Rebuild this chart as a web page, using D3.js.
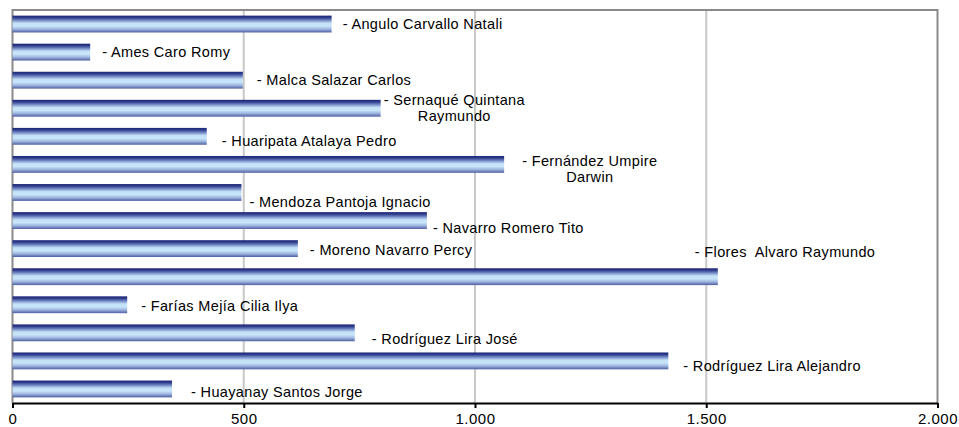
<!DOCTYPE html>
<html>
<head>
<meta charset="utf-8">
<title>Bar chart</title>
<style>
body { margin: 0; background: #fff; }
svg text { font-family: "Liberation Sans", Arial, sans-serif; }
</style>
</head>
<body>
<svg width="959" height="427"></svg>
<script src="https://cdnjs.cloudflare.com/ajax/libs/d3/7.8.5/d3.min.js"></script>
<script>
// data (top bar first)
var names = [
    "Angulo Carvallo Natali",
    "Ames Caro Romy",
    "Malca Salazar Carlos",
    "Sernaqué Quintana Raymundo",
    "Huaripata Atalaya Pedro",
    "Fernández Umpire Darwin",
    "Mendoza Pantoja Ignacio",
    "Navarro Romero Tito",
    "Moreno Navarro Percy",
    "Flores  Alvaro Raymundo",
    "Farías Mejía Cilia Ilya",
    "Rodríguez Lira José",
    "Rodríguez Lira Alejandro",
    "Huayanay Santos Jorge"
];
var values = [690, 168, 498, 796, 420, 1063, 495, 896, 617, 1525, 248, 740, 1418, 345];
var xTicks = [0, 500, 1000, 1500, 2000];

// label placement as dragged in the original: [dx from bar end, dy from bar centre, words on first line]
var labelLayout = [
    [11, 0, 0], [12, 0, 0], [14, 0, 0], [3, 0, 2], [15, 5, 0], [18, 5, 2], [8, 9, 0],
    [6, 7, 0], [12, 1, 0], [-23, -25, 0], [14, 1, 0], [17, 6, 0], [15, 5, 0], [19, 3, 0]
];

var svg = d3.select("svg");
var plotLeft = 12.5, plotRight = 937.5, plotTop = 10, plotBottom = 403;
var labelFont = "14.5px";

var x = d3.scaleLinear().domain([0, 2000]).range([plotLeft, plotRight]);
var y = d3.scaleBand().domain(names).range([plotTop, plotBottom]).paddingInner(0.4).paddingOuter(0.2);

var loc = d3.formatLocale({decimal: ",", thousands: ".", grouping: [3], currency: ["", ""]});
var fmt = loc.format(",");

// bar gradient (horizontal stripes)
var grad = svg.append("defs").append("linearGradient")
    .attr("id", "barGrad").attr("x1", 0).attr("y1", 0).attr("x2", 0).attr("y2", 1);
[[0, "#1e2678"], [0.12, "#2f3c8c"], [0.3, "#7d95cc"], [0.45, "#c4e0f7"], [0.62, "#c8e6fa"],
 [0.8, "#9fb6e0"], [1, "#4d5ea2"]].forEach(function(s) {
    grad.append("stop").attr("offset", s[0]).attr("stop-color", s[1]);
});

// gridlines
svg.selectAll(".grid")
    .data(xTicks.slice(1, -1))
    .enter().append("line")
    .attr("x1", d => x(d)).attr("x2", d => x(d))
    .attr("y1", plotTop).attr("y2", plotBottom)
    .style("stroke", "#c8c8c8").style("stroke-width", 2);

// plot border (top, right, left)
svg.append("path")
    .attr("d", "M" + plotLeft + "," + plotBottom + "V" + plotTop + "H" + plotRight + "V" + plotBottom)
    .style("fill", "none").style("stroke", "#8a8a8a").style("stroke-width", 2);

// bars
svg.selectAll(".bar")
    .data(values)
    .enter().append("rect")
    .attr("x", x(0))
    .attr("y", (d, i) => y(names[i]))
    .attr("width", d => x(d) - x(0))
    .attr("height", y.bandwidth())
    .style("fill", "url(#barGrad)");

// axis
var axis = svg.append("g")
    .attr("transform", "translate(0," + plotBottom + ")")
    .call(d3.axisBottom(x).tickValues(xTicks).tickFormat(fmt).tickSize(5).tickSizeOuter(0));
axis.select(".domain").style("stroke", "#000").style("stroke-width", 2);
axis.selectAll(".tick line").style("stroke", "#000").style("stroke-width", 2);
axis.selectAll(".tick text").attr("y", 10).style("font-size", "15px").style("fill", "#000")
    .style("letter-spacing", "0.5px")
    .style("font-family", "'Liberation Sans', Arial, sans-serif");

// data labels
names.forEach(function(name, i) {
    var lay = labelLayout[i];
    var words = name.split(" ");
    var lines = lay[2] ? [words.slice(0, lay[2]).join(" "), words.slice(lay[2]).join(" ")] : [name];
    var cx = x(values[i]) + lay[0];
    var cy = y(name) + y.bandwidth() / 2 + lay[1];
    var t = svg.append("text")
        .attr("x", cx)
        .attr("y", cy - (lines.length - 1) * 8)
        .attr("dy", "0.35em")
        .style("font-size", labelFont)
        .style("letter-spacing", "0.35px")
        .style("fill", "#000")
        .style("white-space", "pre");
    if (lines.length === 1) {
        t.text("- " + name);
    } else {
        t.text("- " + lines[0]);
        var w = t.node().getComputedTextLength();
        svg.append("text")
            .attr("x", cx + w / 2)
            .attr("y", cy + 8)
            .attr("dy", "0.35em")
            .attr("text-anchor", "middle")
            .style("font-size", labelFont)
            .style("letter-spacing", "0.35px")
            .style("fill", "#000")
            .text(lines[1]);
    }
});
</script>
</body>
</html>
